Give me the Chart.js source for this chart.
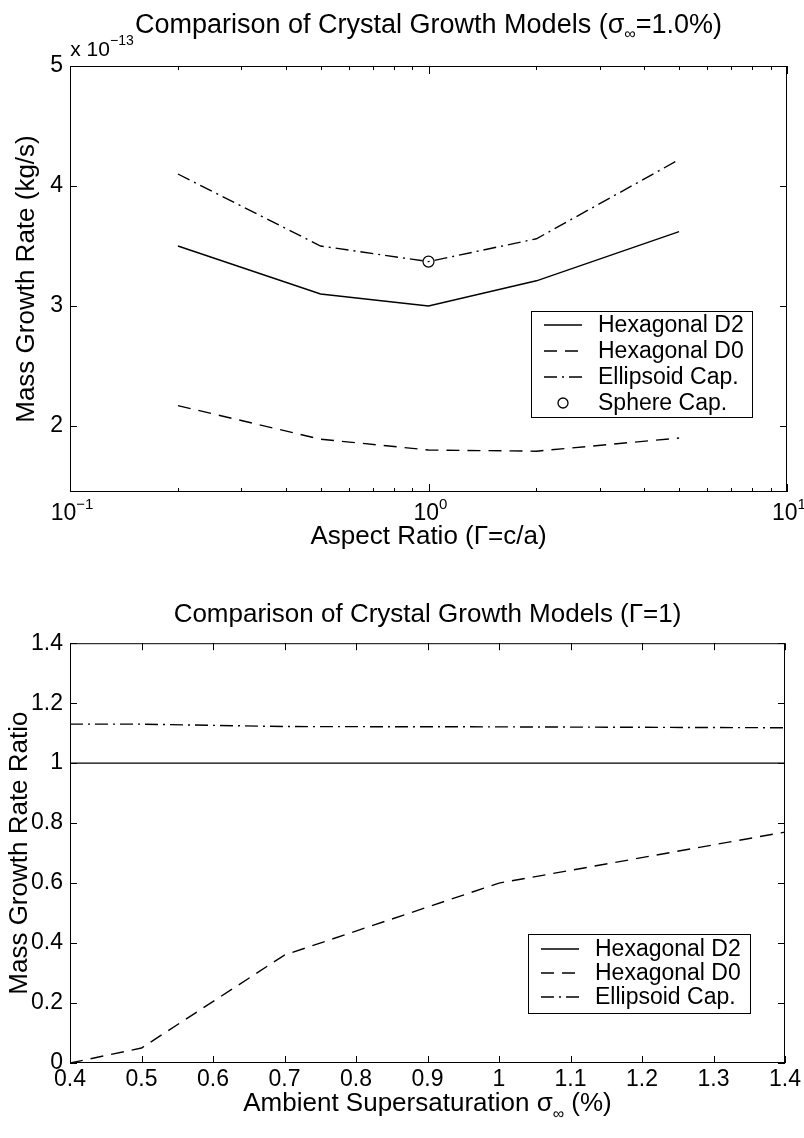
<!DOCTYPE html>
<html>
<head>
<meta charset="utf-8">
<script src="https://cdn.jsdelivr.net/npm/chart.js@4.4.0/dist/chart.umd.min.js"></script>
<style>
  html, body { margin: 0; padding: 0; background: #fff; }
  #wrap { position: relative; width: 804px; height: 1138px; }
  canvas { position: absolute; left: 0; }
</style>
</head>
<body>
<div id="wrap">
  <canvas id="topChart" width="804" height="570" style="top:0"></canvas>
  <canvas id="bottomChart" width="804" height="568" style="top:570px"></canvas>
</div>
<script>
// ---- top plot: growth rate vs aspect ratio (values in units of 1e-13 kg/s)
var aspectRatio = [0.2, 0.5, 1, 2, 5];
var hexD2Rate = [3.5, 3.1, 3.0, 3.21, 3.62];
var hexD0Rate = [2.17, 1.89, 1.80, 1.79, 1.90];
var ellipsoidRate = [4.1, 3.5, 3.37, 3.56, 4.22];
var sphereAspect = [1];
var sphereRate = [3.37];
var aspectTicks = [0.1, 0.2, 0.3, 0.4, 0.5, 0.6, 0.7, 0.8, 0.9, 1, 2, 3, 4, 5, 6, 7, 8, 9, 10];
var rateTicks = [2, 3, 4, 5];

// ---- bottom plot: growth rate ratio vs ambient supersaturation
var supersat = [0.4, 0.5, 0.7, 1.0, 1.4];
var ratioD2 = [1, 1, 1, 1, 1];
var ratioD0 = [0.0, 0.05, 0.36, 0.60, 0.77];
var ratioEllipsoid = [1.13, 1.13, 1.122, 1.121, 1.118];
var supersatTicks = [0.4, 0.5, 0.6, 0.7, 0.8, 0.9, 1, 1.1, 1.2, 1.3, 1.4];
var ratioTicks = [0, 0.2, 0.4, 0.6, 0.8, 1, 1.2, 1.4];

var FONT = '"Liberation Sans", Arial, Helvetica, sans-serif';
Chart.defaults.font.family = FONT;
Chart.defaults.color = "#000";

function pts(xs, ys) {
  return xs.map(function (x, i) { return { x: x, y: ys[i] }; });
}

function fmt(v) {
  return String(Math.round(v * 10) / 10);
}

// draws a row of text pieces (for sub/superscripts)
function drawRuns(ctx, runs, x, baseline) {
  var widths = runs.map(function (r) {
    ctx.font = r.size + "px " + FONT;
    return ctx.measureText(r.text).width;
  });
  var total = widths.reduce(function (a, b) { return a + b; }, 0);
  var cx = x - total / 2;
  ctx.textAlign = "left";
  ctx.textBaseline = "alphabetic";
  ctx.fillStyle = "#000";
  runs.forEach(function (r, i) {
    ctx.font = r.size + "px " + FONT;
    ctx.fillText(r.text, cx, baseline + (r.dy || 0));
    cx += widths[i];
  });
}

// box around plot + inward ticks on all four sides (matlab style)
var axesBox = {
  id: "axesBox",
  afterDatasetsDraw: function (chart, args, o) {
    var ctx = chart.ctx, a = chart.chartArea;
    var x = chart.scales.x, y = chart.scales.y;
    ctx.save();
    ctx.strokeStyle = "#000";
    ctx.lineWidth = 1;
    ctx.setLineDash([]);
    ctx.strokeRect(a.left + 0.5, a.top + 0.5, a.right - a.left - 1, a.bottom - a.top - 1);
    ctx.beginPath();
    x.ticks.forEach(function (t) {
      var px = Math.round(x.getPixelForValue(t.value)) + 0.5;
      var len = 7;
      if (o.logX) {
        var e = Math.log10(t.value);
        len = Math.abs(e - Math.round(e)) < 1e-9 ? 8 : 4;
      }
      ctx.moveTo(px, a.bottom); ctx.lineTo(px, a.bottom - len);
      ctx.moveTo(px, a.top); ctx.lineTo(px, a.top + len);
    });
    y.ticks.forEach(function (t) {
      var py = Math.round(y.getPixelForValue(t.value)) + 0.5;
      ctx.moveTo(a.left, py); ctx.lineTo(a.left + 7, py);
      ctx.moveTo(a.right, py); ctx.lineTo(a.right - 7, py);
    });
    ctx.stroke();
    ctx.restore();
  }
};

// legend in a frame inside the axes
var boxLegend = {
  id: "boxLegend",
  afterDraw: function (chart, args, o) {
    var ctx = chart.ctx;
    ctx.save();
    ctx.fillStyle = "#fff";
    ctx.fillRect(o.left, o.top, o.width, o.height);
    ctx.strokeStyle = "#000";
    ctx.lineWidth = 1;
    ctx.strokeRect(o.left + 0.5, o.top + 0.5, o.width, o.height);
    chart.data.datasets.forEach(function (d, i) {
      var yy = o.top + o.padTop + i * o.rowHeight;
      ctx.strokeStyle = "#000";
      ctx.lineWidth = 1.3;
      if (d.showLine === false) {
        ctx.setLineDash([]);
        ctx.beginPath();
        ctx.arc(o.left + (o.x0 + o.x1) / 2, yy, 5, 0, Math.PI * 2);
        ctx.stroke();
      } else {
        ctx.setLineDash(d.borderDash || []);
        ctx.beginPath();
        ctx.moveTo(o.left + o.x0, yy);
        ctx.lineTo(o.left + o.x1, yy);
        ctx.stroke();
      }
      ctx.setLineDash([]);
      ctx.fillStyle = "#000";
      ctx.font = o.fontSize + "px " + FONT;
      ctx.textAlign = "left";
      ctx.textBaseline = "middle";
      ctx.fillText(d.label, o.left + o.textX, yy + 1);
    });
    ctx.restore();
  }
};

// text with sub/superscripts: titles, exponent label, log tick labels
var mathText = {
  id: "mathText",
  afterDraw: function (chart, args, o) {
    var ctx = chart.ctx, a = chart.chartArea;
    ctx.save();
    (o.items || []).forEach(function (it) {
      drawRuns(ctx, it.runs, it.x === "center" ? (a.left + a.right) / 2 : it.x, it.y);
    });
    if (o.logLabels) {
      var x = chart.scales.x;
      x.ticks.forEach(function (t) {
        var e = Math.log10(t.value);
        if (Math.abs(e - Math.round(e)) > 1e-9) return;
        var ex = Math.round(e);
        drawRuns(ctx, [
          { text: "10", size: 23 },
          { text: ex < 0 ? "\u2212" + (-ex) : String(ex), size: 15, dy: -11 }
        ], x.getPixelForValue(t.value) + 2, a.bottom + 28);
      });
    }
    ctx.restore();
  }
};

new Chart(document.getElementById("topChart"), {
  type: "line",
  data: {
    datasets: [
      { label: "Hexagonal D2", data: pts(aspectRatio, hexD2Rate), borderColor: "#000", borderWidth: 1.4, pointRadius: 0, pointHoverRadius: 0, fill: false },
      { label: "Hexagonal D0", data: pts(aspectRatio, hexD0Rate), borderColor: "#000", borderWidth: 1.4, borderDash: [13, 8], pointRadius: 0, pointHoverRadius: 0, fill: false },
      { label: "Ellipsoid Cap.", data: pts(aspectRatio, ellipsoidRate), borderColor: "#000", borderWidth: 1.4, borderDash: [13, 5, 2, 5], pointRadius: 0, pointHoverRadius: 0, fill: false },
      { label: "Sphere Cap.", data: pts(sphereAspect, sphereRate), showLine: false, pointRadius: 5.5, pointBorderWidth: 1.2, pointBorderColor: "#000", pointBackgroundColor: "#fff" }
    ]
  },
  options: {
    responsive: false,
    animation: false,
    events: [],
    layout: { padding: { top: 66, right: 17, left: 0, bottom: 0 } },
    plugins: {
      legend: { display: false },
      title: { display: false },
      tooltip: { enabled: false },
      axesBox: { logX: true },
      boxLegend: { left: 531, top: 311, width: 221, height: 106, padTop: 14, rowHeight: 26, x0: 13, x1: 51, textX: 67, fontSize: 23 },
      mathText: {
        logLabels: true,
        items: [
          { x: "center", y: 33, runs: [
            { text: "Comparison of Crystal Growth Models (\u03c3", size: 27 },
            { text: "\u221e", size: 16, dy: 6 },
            { text: "=1.0%)", size: 27 }
          ] },
          { x: 102, y: 56, runs: [
            { text: "x 10", size: 21 },
            { text: "\u221213", size: 14, dy: -11 }
          ] }
        ]
      }
    },
    scales: {
      x: {
        type: "logarithmic",
        min: 0.1,
        max: 10,
        afterBuildTicks: function (s) { s.ticks = aspectTicks.map(function (v) { return { value: v }; }); },
        afterFit: function (s) { s.height = 78; },
        grid: { display: false, drawTicks: false },
        border: { display: false },
        ticks: { callback: function () { return ""; }, autoSkip: false, maxRotation: 0 },
        title: { display: true, text: "Aspect Ratio (\u0393=c/a)", font: { size: 26 }, padding: { top: 0, bottom: 18 } }
      },
      y: {
        min: 1.45,
        max: 5,
        afterBuildTicks: function (s) { s.ticks = rateTicks.map(function (v) { return { value: v }; }); },
        afterFit: function (s) { s.width = 70; },
        grid: { display: false, drawTicks: false },
        border: { display: false },
        ticks: { font: { size: 23 }, padding: 7, callback: function (v) { return fmt(v); } },
        title: { display: true, text: "Mass Growth Rate (kg/s)", font: { size: 26 }, padding: { top: 11, bottom: 0 } }
      }
    }
  },
  plugins: [axesBox, boxLegend, mathText]
});

new Chart(document.getElementById("bottomChart"), {
  type: "line",
  data: {
    datasets: [
      { label: "Hexagonal D2", data: pts(supersat, ratioD2), borderColor: "#000", borderWidth: 1.4, pointRadius: 0, pointHoverRadius: 0, fill: false },
      { label: "Hexagonal D0", data: pts(supersat, ratioD0), borderColor: "#000", borderWidth: 1.4, borderDash: [13, 8], pointRadius: 0, pointHoverRadius: 0, fill: false },
      { label: "Ellipsoid Cap.", data: pts(supersat, ratioEllipsoid), borderColor: "#000", borderWidth: 1.4, borderDash: [13, 5, 2, 5], pointRadius: 0, pointHoverRadius: 0, fill: false }
    ]
  },
  options: {
    responsive: false,
    animation: false,
    events: [],
    layout: { padding: { top: 0, right: 17, left: 0, bottom: 0 } },
    plugins: {
      legend: { display: false },
      tooltip: { enabled: false },
      title: {
        display: true,
        fullSize: false,
        text: "Comparison of Crystal Growth Models (\u0393=1)",
        color: "#000",
        font: { size: 26, weight: "normal" },
        padding: { top: 29, bottom: 13 }
      },
      axesBox: { logX: false },
      boxLegend: { left: 528, top: 364, width: 222, height: 79, padTop: 15, rowHeight: 24, x0: 13, x1: 51, textX: 67, fontSize: 23 },
      mathText: {
        items: [
          { x: "center", y: 541, runs: [
            { text: "Ambient Supersaturation \u03c3", size: 26 },
            { text: "\u221e", size: 16, dy: 8 },
            { text: " (%)", size: 26 }
          ] }
        ]
      }
    },
    scales: {
      x: {
        type: "linear",
        min: 0.4,
        max: 1.4,
        afterBuildTicks: function (s) { s.ticks = supersatTicks.map(function (v) { return { value: v }; }); },
        afterFit: function (s) { s.height = 75; },
        grid: { display: false, drawTicks: false },
        border: { display: false },
        ticks: { font: { size: 23 }, padding: 3, autoSkip: false, maxRotation: 0, callback: function (v) { return fmt(v); } }
      },
      y: {
        min: 0,
        max: 1.4,
        afterBuildTicks: function (s) { s.ticks = ratioTicks.map(function (v) { return { value: v }; }); },
        afterFit: function (s) { s.width = 70; },
        grid: { display: false, drawTicks: false },
        border: { display: false },
        ticks: { font: { size: 23 }, padding: 7, callback: function (v) { return fmt(v); } },
        title: { display: true, text: "Mass Growth Rate Ratio", font: { size: 26 }, padding: { top: 4, bottom: 0 } }
      }
    }
  },
  plugins: [axesBox, boxLegend, mathText]
});
</script>
</body>
</html>
